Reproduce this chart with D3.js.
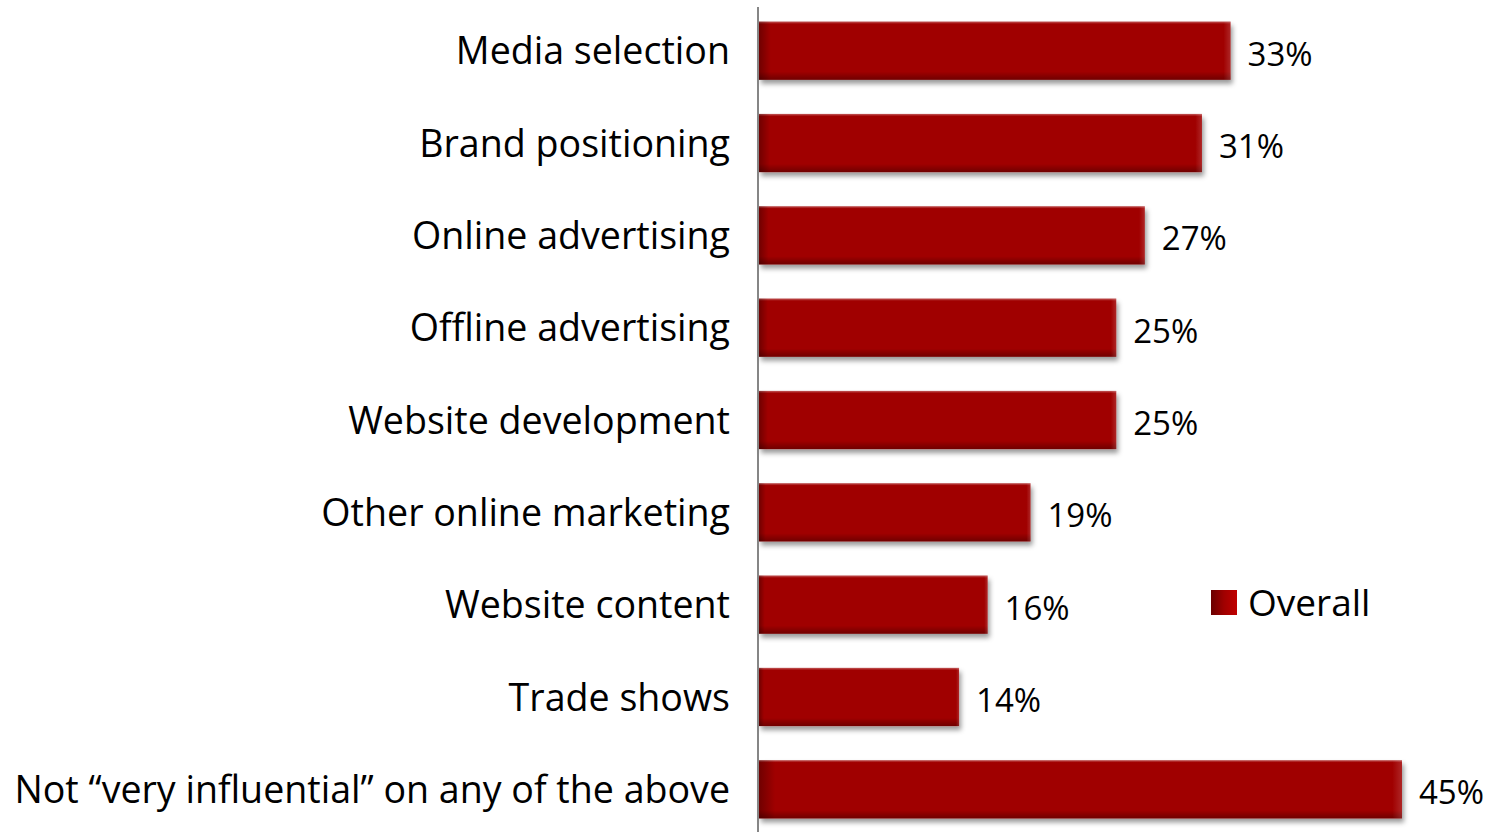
<!DOCTYPE html>
<html>
<head>
<meta charset="utf-8">
<script src="https://cdn.jsdelivr.net/npm/d3@7"></script>
<style>
  html, body { margin: 0; padding: 0; background: #fff; }
  svg { display: block; }
  text { font-family: "Open Sans", Lato, sans-serif; fill: #000; }
</style>
</head>
<body>
<svg id="chart" width="1490" height="832"></svg>
<script>
// Share of respondents rating themselves "very influential", by area
const categories = [
  "Media selection",
  "Brand positioning",
  "Online advertising",
  "Offline advertising",
  "Website development",
  "Other online marketing",
  "Website content",
  "Trade shows",
  "Not \u201cvery influential\u201d on any of the above"
];
const overall = [33, 31, 27, 25, 25, 19, 16, 14, 45];
const seriesName = "Overall";

const svg = d3.select("#chart");
const W = 1490, H = 832;
const axisX = 758;

const x = d3.scaleLinear().domain([0, 45]).range([axisX + 1, 1402]);
const y = d3.scaleBand().domain(categories).range([5, 835]).paddingInner(0.37).paddingOuter(0.18);

const defs = svg.append("defs");
// bevel shading: light top edge, dark bottom edge
const vg = defs.append("linearGradient").attr("id", "bevelV").attr("x1", 0).attr("y1", 0).attr("x2", 0).attr("y2", 1);
vg.append("stop").attr("offset", "0").attr("stop-color", "#ffffff").attr("stop-opacity", 0.35);
vg.append("stop").attr("offset", "0.04").attr("stop-color", "#ffffff").attr("stop-opacity", 0);
vg.append("stop").attr("offset", "0.86").attr("stop-color", "#000000").attr("stop-opacity", 0);
vg.append("stop").attr("offset", "1").attr("stop-color", "#000000").attr("stop-opacity", 0.3);
const hg = defs.append("linearGradient").attr("id", "bevelH").attr("x1", 0).attr("y1", 0).attr("x2", 1).attr("y2", 0);
hg.append("stop").attr("offset", "0").attr("stop-color", "#000000").attr("stop-opacity", 0.3);
hg.append("stop").attr("offset", "0.025").attr("stop-color", "#000000").attr("stop-opacity", 0);
hg.append("stop").attr("offset", "0.985").attr("stop-color", "#ffffff").attr("stop-opacity", 0);
hg.append("stop").attr("offset", "1").attr("stop-color", "#ffffff").attr("stop-opacity", 0.15);

const shadow = defs.append("filter").attr("id", "shadow")
  .attr("x", "-5%").attr("y", "-20%").attr("width", "115%").attr("height", "160%");
shadow.append("feDropShadow").attr("dx", 2).attr("dy", 4).attr("stdDeviation", 2.5)
  .attr("flood-color", "#000").attr("flood-opacity", 0.4);

// legend swatch gradient
const lg = defs.append("linearGradient").attr("id", "swatch").attr("x1", 0).attr("y1", 0).attr("x2", 1).attr("y2", 0);
lg.append("stop").attr("offset", "0").attr("stop-color", "#6a0000");
lg.append("stop").attr("offset", "0.5").attr("stop-color", "#a00000");
lg.append("stop").attr("offset", "1").attr("stop-color", "#c00000");

const bars = svg.append("g").selectAll("g").data(categories).join("g");

bars.append("rect")
  .attr("x", x(0))
  .attr("y", d => y(d))
  .attr("width", (d, i) => x(overall[i]) - x(0))
  .attr("height", y.bandwidth())
  .attr("fill", "#a00000")
  .attr("filter", "url(#shadow)");
bars.append("rect")
  .attr("x", x(0))
  .attr("y", d => y(d))
  .attr("width", (d, i) => x(overall[i]) - x(0))
  .attr("height", y.bandwidth())
  .attr("fill", "url(#bevelV)");
bars.append("rect")
  .attr("x", x(0))
  .attr("y", d => y(d))
  .attr("width", (d, i) => x(overall[i]) - x(0))
  .attr("height", y.bandwidth())
  .attr("fill", "url(#bevelH)");

// value labels
bars.append("text")
  .attr("x", (d, i) => x(overall[i]) + 17)
  .attr("y", d => y(d) + y.bandwidth() / 2 + 15)
  .attr("font-size", 33)
  .text((d, i) => overall[i] + "%");

// category labels
const yAxis = d3.axisLeft(y).tickSize(0).tickPadding(28);
const ag = svg.append("g").attr("transform", `translate(${axisX},0)`).call(yAxis);
ag.select(".domain").remove();
ag.selectAll(".tick text")
  .attr("font-size", 37.6)
  .attr("font-family", "'Open Sans', Lato, sans-serif")
  .attr("fill", "#000")
  .attr("dy", "0.36em");

// vertical axis line
svg.append("line")
  .attr("x1", axisX).attr("x2", axisX)
  .attr("y1", 7).attr("y2", H)
  .attr("stroke", "#868686").attr("stroke-width", 2);

// legend
const leg = svg.append("g").attr("transform", "translate(1211,590)");
leg.append("rect").attr("width", 26).attr("height", 25).attr("fill", "url(#swatch)");
leg.append("text").attr("x", 37).attr("y", 26)
  .attr("font-size", 37).text(seriesName);
</script>
</body>
</html>
